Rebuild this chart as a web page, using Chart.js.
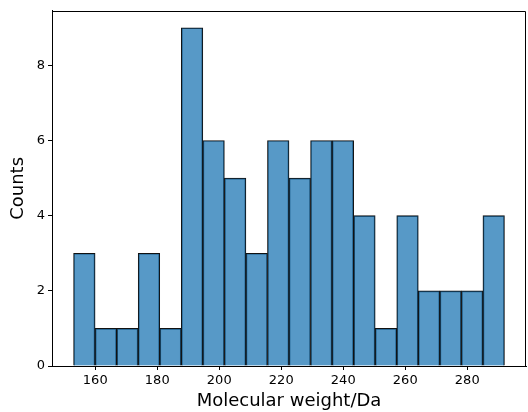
<!DOCTYPE html>
<html>
<head>
<meta charset="utf-8">
<script src="https://cdn.jsdelivr.net/npm/chart.js@4/dist/chart.umd.min.js"></script>
<style>
  html,body{margin:0;padding:0;background:#fff;}
  #wrap{width:528px;height:412px;position:relative;}
</style>
</head>
<body>
<div id="wrap"><canvas id="chart"></canvas></div>
<script>
// histogram bins (centres, Da) and counts
const binCenters = [156.48,163.43,170.38,177.33,184.28,191.23,198.18,205.13,212.08,219.03,
                    225.98,232.93,239.88,246.83,253.78,260.73,267.68,274.63,281.58,288.53];
const counts = [3,1,1,3,1,9,6,5,3,6,5,6,6,4,1,4,2,2,2,4];
const xTicks = [160,180,200,220,240,260,280];
const yTicks = [0,2,4,6,8];
const xLabel = "Molecular weight/Da";
const yLabel = "Counts";

const font = "'DejaVu Sans', sans-serif";

// top + right spines (left/bottom come from the axes)
const frame = {
  id:"frame",
  afterDraw(c){
    const a = c.chartArea, ctx = c.ctx;
    const t = Math.round(a.top)+0.5, r = Math.round(a.right)-0.5;
    ctx.save();
    ctx.strokeStyle = "#000";
    ctx.lineWidth = 1;
    ctx.beginPath();
    ctx.moveTo(a.left, t);
    ctx.lineTo(r, t);
    ctx.lineTo(r, a.bottom);
    ctx.stroke();
    ctx.restore();
  }
};

function setTicks(arr){
  return function(scale){ scale.ticks = arr.map(v=>({value:v})); };
}

new Chart(document.getElementById("chart"),{
  type:"bar",
  data:{
    datasets:[{
      data:binCenters.map((x,i)=>({x:x,y:counts[i]})),
      backgroundColor:"rgba(31,119,180,0.75)",
      borderColor:"#111",
      borderWidth:1,
      barPercentage:1,
      categoryPercentage:1
    }]
  },
  options:{
    responsive:true,
    maintainAspectRatio:false,
    animation:false,
    layout:{padding:{top:10,right:2,left:8,bottom:0}},
    plugins:{legend:{display:false},tooltip:{enabled:false}},
    scales:{
      x:{
        type:"linear",
        offset:false,
        min:146.05,
        max:298.95,
        afterBuildTicks:setTicks(xTicks),
        afterFit(s){ s.height = 46; },
        grid:{display:true,offset:false,drawOnChartArea:false,drawTicks:true,tickLength:4,tickColor:"#000"},
        border:{display:true,color:"#000",width:1},
        ticks:{color:"#000",font:{family:font,size:13},padding:3,maxRotation:0},
        title:{display:true,text:xLabel,color:"#000",font:{family:font,size:18},padding:{top:0,bottom:0}}
      },
      y:{
        min:0,
        max:9.45,
        afterBuildTicks:setTicks(yTicks),
        afterFit(s){ s.width = 44; },
        grid:{display:true,drawOnChartArea:false,drawTicks:true,tickLength:4,tickColor:"#000"},
        border:{display:true,color:"#000",width:1},
        ticks:{color:"#000",font:{family:font,size:13},padding:3},
        title:{display:true,text:yLabel,color:"#000",font:{family:font,size:18},padding:{top:0,bottom:2}}
      }
    }
  },
  plugins:[frame]
});
</script>
</body>
</html>
